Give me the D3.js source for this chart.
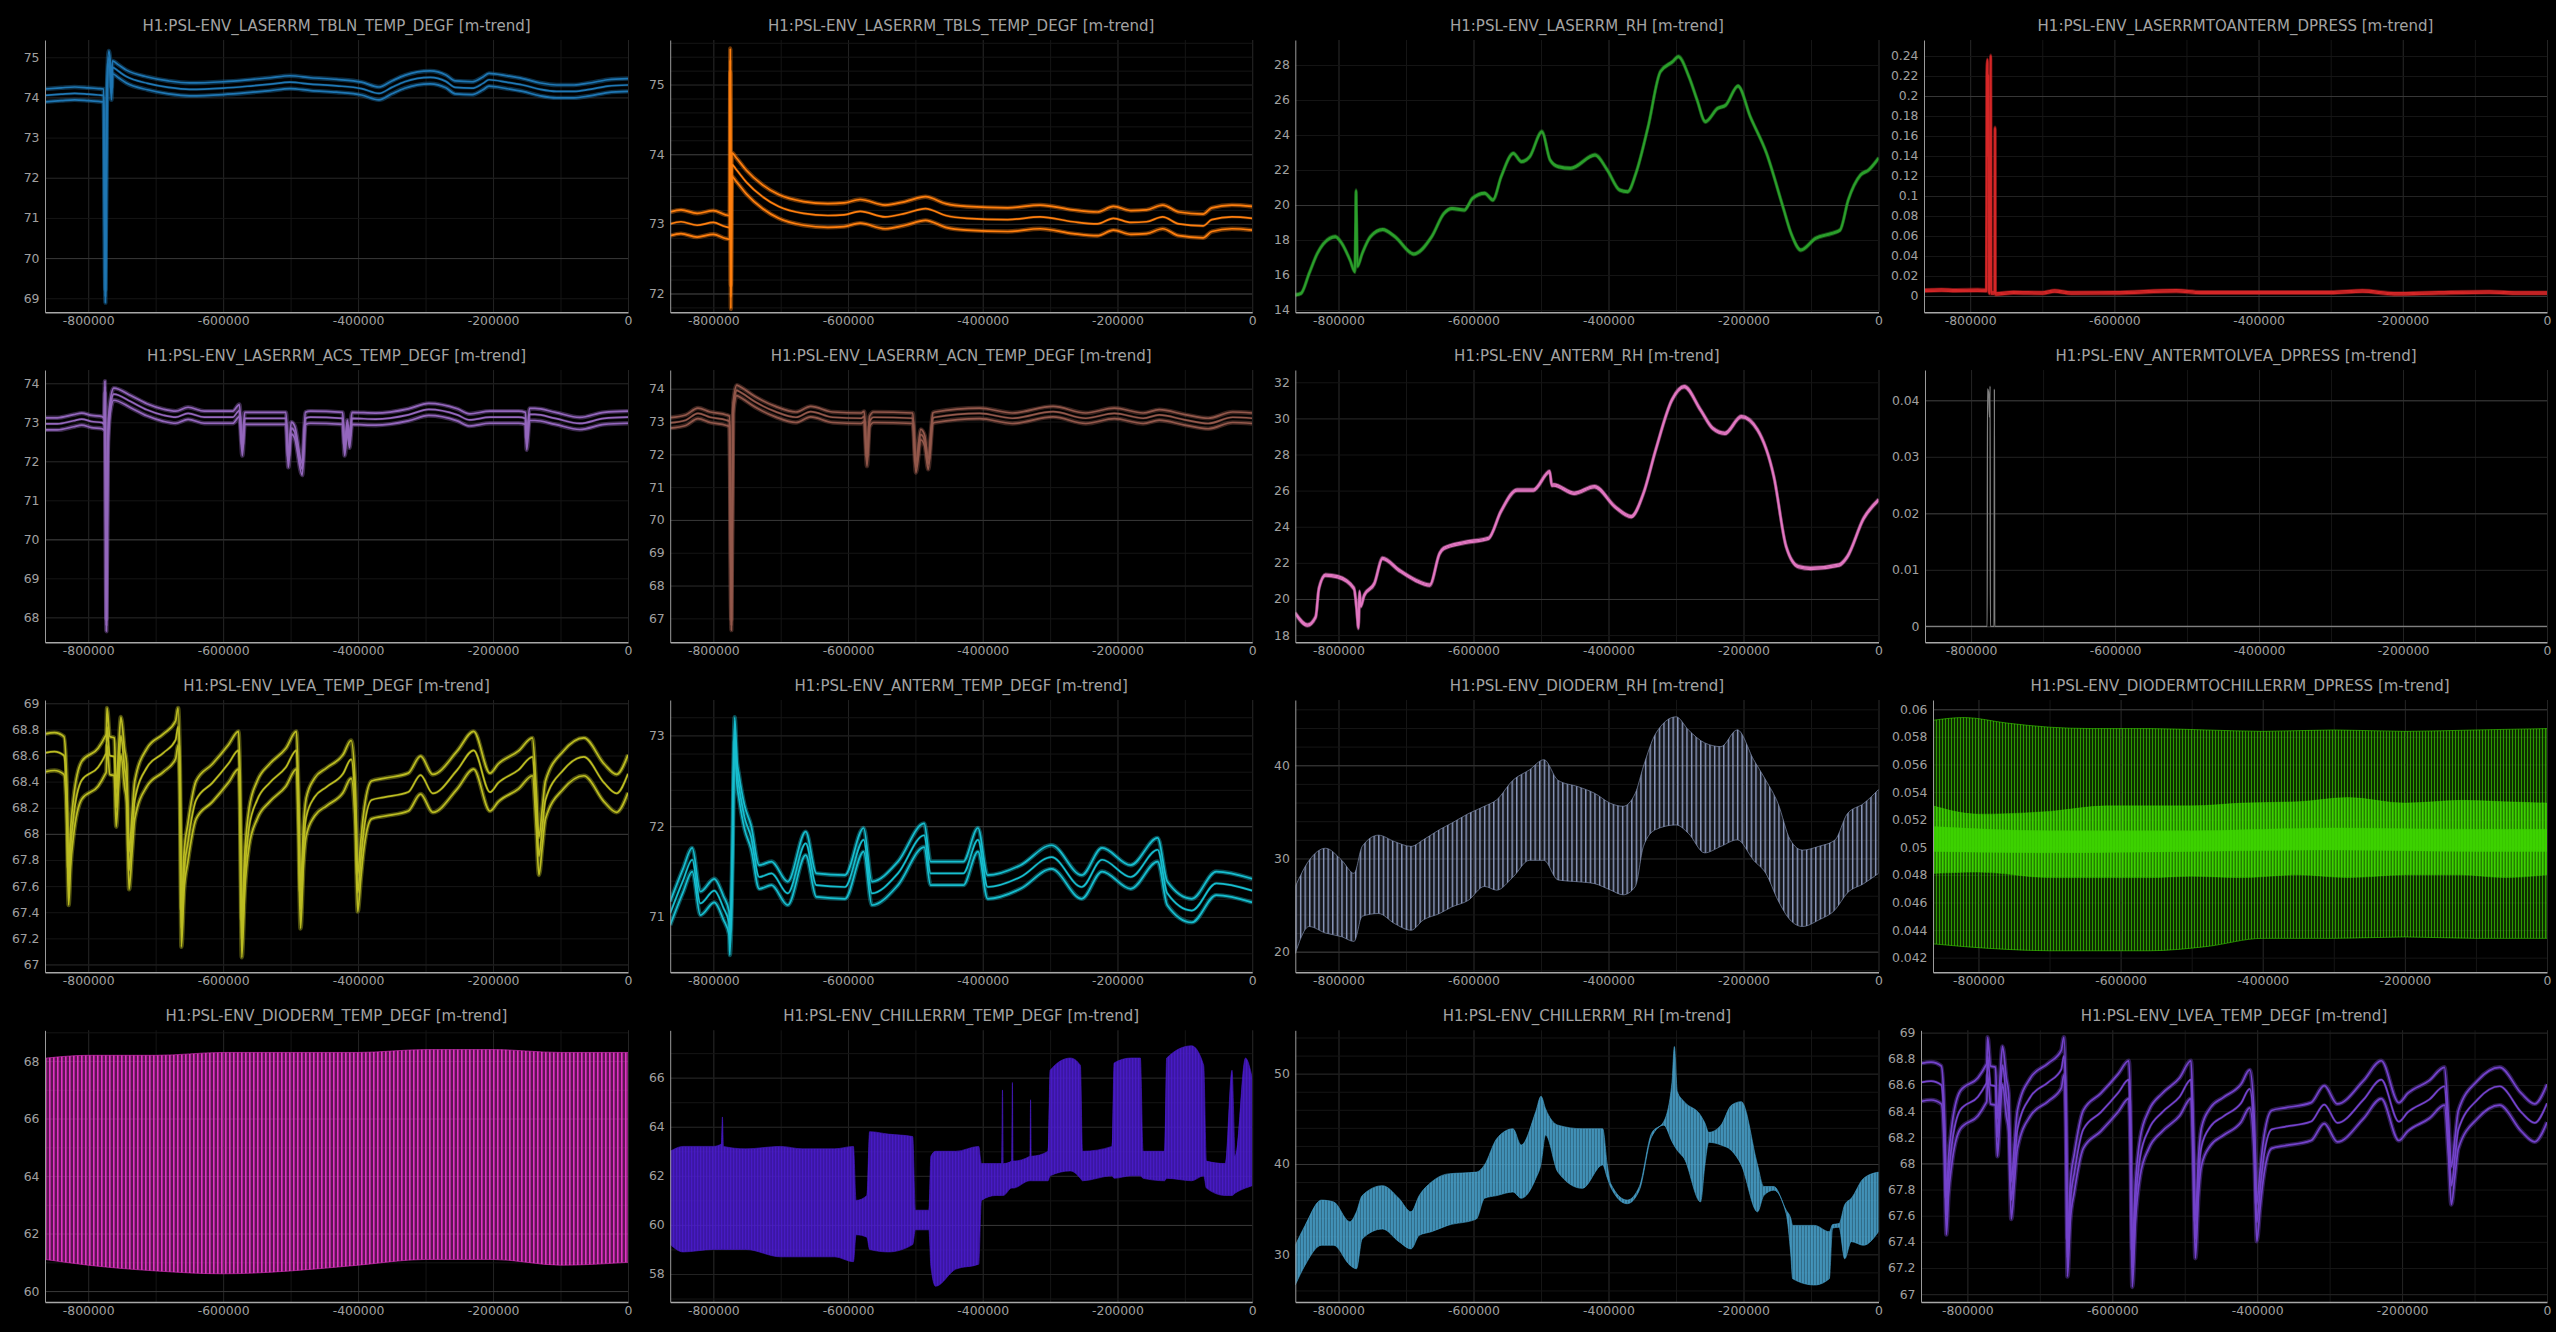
<!DOCTYPE html>
<html>
<head>
<meta charset="utf-8">
<script src="https://cdn.jsdelivr.net/npm/d3@7"></script>
<style>
  body { margin: 0; background: #000; }
  text { font-family: "DejaVu Sans", sans-serif; }
</style>
</head>
<body>
<script>
// time axis, seconds relative to now (10 days back)
const xDomain = [-864000, 0];
const xTicks = [-800000, -600000, -400000, -200000, 0];
const xGridSteps = [200000, 100000];

// m-trend means [t, mean] and min/max half spread
const tblnMean = [[-864000,74.05],[-840000,74.08],[-820000,74.1],[-800000,74.08],[-785000,74.06],[-777000,74.05],[-774500,69.05],[-772500,73.8],[-769500,75.0],[-767500,74.78],[-765500,74.1],[-764000,74.75],[-755000,74.65],[-743400,74.52],[-712000,74.35],[-680900,74.25],[-650000,74.2],[-600000,74.23],[-556000,74.29],[-530000,74.33],[-501000,74.38],[-470000,74.33],[-432000,74.29],[-395000,74.22],[-369000,74.1],[-350000,74.25],[-331000,74.39],[-293000,74.5],[-270000,74.4],[-256000,74.25],[-231000,74.23],[-215000,74.35],[-206000,74.44],[-180000,74.38],[-156000,74.31],[-130000,74.2],[-106000,74.15],[-80000,74.15],[-57000,74.2],[-30000,74.28],[0,74.31]];
const tblnSpread = 0.16;

const tblsMean = [[-864000,73.0],[-848000,73.03],[-824000,72.98],[-800000,73.02],[-782000,72.96],[-775500,72.95],[-774800,75.35],[-774000,71.95],[-772500,73.85],[-766000,73.78],[-751000,73.6],[-727000,73.39],[-703000,73.25],[-666000,73.15],[-630000,73.12],[-606000,73.13],[-582000,73.18],[-545000,73.1],[-515000,73.15],[-485000,73.22],[-455000,73.12],[-424000,73.08],[-363000,73.06],[-315000,73.1],[-266000,73.03],[-230000,73.0],[-206000,73.08],[-180000,73.02],[-157000,73.03],[-133000,73.1],[-109000,73.0],[-73000,72.97],[-60000,73.06],[-30000,73.1],[0,73.08]];
const tblsSpread = 0.17;

const laserRhMean = [[-864000,14.86],[-855500,14.95],[-843400,16.1],[-831300,17.24],[-813000,18.1],[-804700,18.19],[-795000,17.8],[-783000,16.86],[-775700,16.19],[-774000,20.82],[-772000,16.5],[-764800,17.24],[-752700,18.19],[-734500,18.6],[-716400,18.19],[-688500,17.2],[-662000,18.19],[-643800,19.52],[-631700,19.8],[-613600,19.71],[-601500,20.38],[-583300,20.67],[-571200,20.29],[-559000,21.62],[-541000,22.95],[-529000,22.48],[-516700,22.76],[-498600,24.19],[-486500,22.57],[-474400,22.19],[-456000,22.1],[-420000,22.86],[-401800,22.0],[-383600,20.86],[-371500,20.76],[-359400,21.81],[-341300,24.48],[-323100,27.62],[-305000,28.19],[-296500,28.48],[-280800,27.33],[-268700,26.0],[-256600,24.76],[-238400,25.52],[-226300,25.71],[-208200,26.8],[-190000,25.05],[-165800,22.95],[-141600,19.9],[-129500,18.38],[-115000,17.43],[-93200,18.1],[-69000,18.38],[-56900,18.57],[-44800,20.29],[-26700,21.71],[-14600,22.0],[0,22.67]];
const laserRhSpread = 0.05;

const dpressLaserMean = [[-864000,0.0055],[-840000,0.006],[-820000,0.0055],[-790000,0.0058],[-777500,0.0055],[-776800,0.218],[-776000,0.236],[-775200,0.14],[-774500,0.22],[-773800,0.004],[-772500,0.003],[-771500,0.24],[-771000,0.003],[-766000,0.003],[-765500,0.168],[-765000,0.002],[-740000,0.0035],[-700000,0.003],[-683000,0.005],[-660000,0.003],[-600000,0.0032],[-514000,0.0052],[-480000,0.0035],[-400000,0.0035],[-300000,0.0035],[-256000,0.005],[-212000,0.0022],[-150000,0.0032],[-80000,0.004],[-40000,0.003],[0,0.003]];
const dpressLaserSpread = 0.0011;

const acsMean = [[-864000,72.96],[-845800,72.96],[-821700,73.04],[-809600,73.08],[-795000,73.02],[-779300,72.99],[-776000,72.95],[-775200,73.9],[-774500,72.4],[-773000,67.8],[-771000,72.3],[-768000,73.3],[-762000,73.72],[-737000,73.53],[-713000,73.32],[-688500,73.18],[-670400,73.13],[-652000,73.23],[-628000,73.13],[-585700,73.13],[-576000,73.3],[-571500,72.3],[-568000,73.1],[-543000,73.1],[-507000,73.1],[-503400,72.0],[-499000,72.85],[-494000,72.75],[-482800,71.8],[-478000,73.1],[-470700,73.13],[-423000,73.1],[-419900,72.3],[-416000,72.9],[-412700,72.5],[-409000,73.1],[-374000,73.08],[-325600,73.19],[-295300,73.33],[-253000,73.19],[-234800,73.06],[-204500,73.13],[-162200,73.13],[-152000,73.1],[-150100,72.45],[-146000,73.2],[-138000,73.2],[-107800,73.1],[-71500,72.97],[-35300,73.1],[0,73.13]];
const acsSpread = 0.155;

const acnMean = [[-864000,72.96],[-841000,73.04],[-822800,73.25],[-804600,73.13],[-780400,73.04],[-776000,73.0],[-773200,66.8],[-770500,73.4],[-765000,73.95],[-762000,73.92],[-738000,73.6],[-707700,73.3],[-677400,73.13],[-655500,73.3],[-622800,73.13],[-580400,73.1],[-576000,73.15],[-571900,71.8],[-568000,73.0],[-562000,73.13],[-504000,73.1],[-499200,71.6],[-492000,72.6],[-486000,72.4],[-481000,71.7],[-474000,73.1],[-471000,73.13],[-404600,73.25],[-356000,73.1],[-295700,73.3],[-247000,73.1],[-204700,73.25],[-162000,73.1],[-138000,73.2],[-100000,73.05],[-65400,72.94],[-29000,73.13],[0,73.1]];
const acnSpread = 0.16;

const antermRhMean = [[-864000,19.2],[-845900,18.55],[-833800,19.0],[-829000,20.58],[-819300,21.32],[-801200,21.23],[-777000,20.58],[-773000,19.4],[-770500,18.4],[-768800,20.4],[-767000,19.6],[-762000,20.2],[-746800,20.86],[-734800,22.25],[-710600,21.6],[-686400,21.05],[-664700,20.77],[-650200,22.52],[-644100,22.8],[-614000,23.12],[-577700,23.36],[-559600,24.83],[-535400,26.03],[-511300,26.03],[-487100,27.05],[-484000,26.3],[-481000,26.31],[-450900,25.85],[-420700,26.22],[-390500,25.11],[-366400,24.56],[-348200,25.85],[-330100,28.25],[-306000,31.02],[-287800,31.76],[-263700,30.47],[-245600,29.45],[-227500,29.17],[-203300,30.1],[-179200,29.36],[-155000,26.77],[-136800,22.9],[-118700,21.79],[-100600,21.69],[-58300,21.88],[-46200,22.34],[-22000,24.46],[0,25.48]];
const antermRhSpread = 0.06;

const dpressLveaMean = [[-864000,0],[-777600,0],[-777200,0.042],[-775800,0.0415],[-774400,0.037],[-773600,0.0425],[-773200,0],[-768000,0],[-767600,0.042],[-767200,0],[0,0]];
const dpressLveaSpread = 0;

const lveaMean = [[-864000,68.62],[-850000,68.63],[-836000,68.6],[-831500,68.2],[-829000,67.6],[-826000,67.9],[-821700,68.13],[-809600,68.41],[-785300,68.51],[-775000,68.6],[-773200,68.62],[-772000,68.82],[-768000,68.6],[-761200,68.59],[-758500,68.2],[-755000,68.5],[-751500,68.75],[-746000,68.5],[-743000,68.39],[-739400,67.72],[-735000,68.0],[-730900,68.26],[-712800,68.51],[-688500,68.62],[-670400,68.72],[-666800,68.82],[-663500,68.2],[-661900,67.28],[-658000,67.7],[-652300,67.93],[-640000,68.26],[-616000,68.39],[-591800,68.54],[-577200,68.64],[-575000,68.3],[-572400,67.2],[-568000,67.7],[-561500,68.05],[-549500,68.26],[-531200,68.39],[-507000,68.51],[-491300,68.64],[-488500,68.2],[-485300,67.42],[-481000,67.9],[-476800,68.13],[-464700,68.28],[-446600,68.36],[-422400,68.46],[-410300,68.57],[-404000,68.2],[-400600,67.55],[-396000,67.8],[-392100,68.0],[-380000,68.26],[-361900,68.28],[-325600,68.32],[-307400,68.45],[-289300,68.31],[-253000,68.49],[-228800,68.64],[-204500,68.32],[-192400,68.39],[-162200,68.49],[-141600,68.59],[-136000,68.2],[-132000,67.83],[-127000,68.05],[-122300,68.26],[-95600,68.49],[-65400,68.59],[-35300,68.39],[-17100,68.31],[0,68.46]];
const lveaSpread = 0.145;

const antermTempMean = [[-864000,71.04],[-845000,71.4],[-831300,71.63],[-819200,71.15],[-798600,71.29],[-785000,71.1],[-776500,70.93],[-775500,70.71],[-772000,71.5],[-768300,73.07],[-765000,72.6],[-762000,72.44],[-753700,72.1],[-744000,71.88],[-731900,71.44],[-713700,71.48],[-689500,71.26],[-662800,71.81],[-647000,71.35],[-604600,71.33],[-576800,71.85],[-564600,71.26],[-525900,71.48],[-487000,71.9],[-477400,71.48],[-429000,71.48],[-407100,71.85],[-392700,71.33],[-344000,71.44],[-298000,71.66],[-253200,71.33],[-222900,71.63],[-180400,71.44],[-140400,71.74],[-126000,71.26],[-89600,71.07],[-53300,71.37],[0,71.29]];
const antermTempSpread = 0.13;

// fast-cycling channels: [t, low, high] envelopes of the swing
const diodeRhEnv = [[-864000,19.8,27.0],[-843500,22.7,29.8],[-819300,22.0,31.1],[-795100,21.6,29.8],[-777000,21.1,28.4],[-764900,23.8,31.3],[-740800,24.1,32.5],[-716600,23.0,31.8],[-692500,22.3,31.3],[-674400,23.4,32.0],[-650200,24.1,33.1],[-632100,24.8,33.8],[-607900,25.5,34.8],[-583800,27.0,35.6],[-565600,26.6,36.3],[-541500,28.0,38.4],[-517300,29.8,39.5],[-495600,29.8,40.6],[-475000,27.7,38.4],[-445000,27.5,37.7],[-420700,27.3,37.0],[-396500,26.6,35.9],[-378400,26.1,35.6],[-360300,27.0,37.0],[-348200,31.3,39.9],[-330100,33.1,43.4],[-299800,33.6,45.2],[-281700,32.7,43.8],[-257500,30.6,42.4],[-233400,31.3,42.0],[-209200,32.0,43.8],[-185000,29.8,40.6],[-166900,28.4,38.4],[-148800,25.5,35.9],[-130800,23.4,32.0],[-112600,22.7,30.9],[-88500,23.4,31.3],[-64300,24.5,32.0],[-46200,26.3,34.8],[-22000,27.3,35.9],[0,28.4,37.4]];

const dpressChillerOuter = [[-864000,0.0430,0.0592],[-820000,0.0428,0.0594],[-760000,0.0426,0.0590],[-700000,0.0425,0.0587],[-640000,0.0425,0.0586],[-560000,0.0425,0.0586],[-480000,0.0428,0.0585],[-400000,0.0434,0.0584],[-300000,0.0434,0.0585],[-200000,0.0435,0.0584],[-100000,0.0434,0.0585],[0,0.0434,0.0586]];
const dpressChillerInner = [[-864000,0.0481,0.0530],[-800000,0.0482,0.0524],[-700000,0.0478,0.0526],[-620000,0.0478,0.0530],[-560000,0.0478,0.0530],[-500000,0.0479,0.0530],[-430000,0.0478,0.0532],[-350000,0.0480,0.0533],[-280000,0.0478,0.0536],[-200000,0.0480,0.0532],[-120000,0.0480,0.0534],[-60000,0.0478,0.0533],[0,0.0480,0.0532]];
const dpressChillerCore = [[-864000,0.0497,0.0515],[-700000,0.0496,0.0512],[-500000,0.0497,0.0512],[-300000,0.0498,0.0514],[-100000,0.0497,0.0513],[0,0.0497,0.0513]];

const diodeTempEnv = [[-864000,61.1,68.1],[-800000,60.9,68.2],[-700000,60.7,68.2],[-600000,60.6,68.3],[-500000,60.7,68.3],[-400000,60.9,68.3],[-300000,61.1,68.4],[-200000,61.1,68.4],[-100000,60.9,68.3],[0,61.0,68.3]];

const chillerTempEnv = [[-864000,59.2,63.0],[-845000,58.9,63.2],[-800000,59.0,63.2],[-788000,59.0,63.3],[-786500,59.0,64.4],[-785000,59.0,63.2],[-752000,59.0,63.1],[-700000,58.7,63.2],[-668000,58.7,63.1],[-620000,58.7,63.1],[-592000,58.5,63.2],[-588000,59.6,61.0],[-572000,59.5,61.2],[-568000,59.0,63.8],[-540000,58.9,63.7],[-504000,59.2,63.6],[-500000,59.8,60.6],[-480000,59.8,60.6],[-477000,58.3,62.8],[-470000,57.5,63.0],[-440000,58.2,63.0],[-406000,58.4,63.2],[-402000,61.0,62.5],[-380000,61.2,62.5],[-372000,61.2,62.5],[-370700,61.2,65.5],[-369500,61.2,62.5],[-357000,61.5,62.6],[-356000,61.5,65.8],[-355000,61.5,62.6],[-330000,61.8,62.8],[-329000,61.8,65.1],[-328000,61.8,62.8],[-303000,61.8,63.0],[-300000,62.0,66.3],[-270000,62.2,66.8],[-255000,61.9,66.5],[-252000,61.8,63.0],[-208000,62.0,63.2],[-205000,61.9,66.6],[-180000,62.0,66.8],[-166000,62.0,66.8],[-162000,61.9,63.0],[-130000,61.8,63.0],[-127000,61.9,66.8],[-90000,61.8,67.3],[-72000,62.0,66.5],[-68000,61.5,62.6],[-40000,61.2,62.5],[-30000,61.2,66.3],[-25000,61.3,62.8],[-10000,61.5,66.8],[0,61.6,66.0]];

const chillerRhEnv = [[-864000,26.6,31.0],[-849500,28.8,33.2],[-825300,31.0,36.0],[-807200,31.0,35.8],[-783100,28.8,33.6],[-773400,28.4,34.7],[-764900,31.7,36.5],[-734800,32.8,37.6],[-710600,31.4,36.2],[-692500,30.6,34.7],[-680400,32.1,36.5],[-662300,32.5,38.0],[-638100,33.2,38.9],[-595800,33.9,39.1],[-583700,36.2,39.9],[-565600,36.5,42.8],[-541500,36.9,43.9],[-529400,36.2,42.1],[-507700,38.4,45.8],[-500000,40.0,47.5],[-493200,43.2,46.1],[-475000,39.1,44.3],[-438800,37.3,43.9],[-408600,39.9,43.9],[-402000,38.5,40.0],[-396600,37.4,37.8],[-372400,35.6,36.0],[-354300,37.1,37.5],[-336200,43.0,43.4],[-318100,44.3,44.7],[-306000,42.5,49.0],[-302400,42.0,53.0],[-298000,41.5,48.0],[-287800,40.6,46.9],[-263700,35.8,45.4],[-257000,40.0,44.5],[-251600,42.4,43.5],[-233400,42.1,44.3],[-218000,41.5,46.5],[-203300,39.9,46.9],[-179200,34.7,39.9],[-170000,36.5,37.5],[-155000,37.1,37.5],[-136800,34.5,34.9],[-130000,30.0,34.0],[-127200,27.3,33.2],[-94700,26.6,33.2],[-72900,27.3,32.5],[-68000,32.9,33.3],[-58500,33.0,33.4],[-50000,29.5,35.5],[-40300,31.4,36.2],[-22200,31.0,38.4],[0,32.5,39.1]];

// panel layout in the 4x4 grid
const W = 2556, H = 1332;
const rowTop = [40, 370, 700, 1030.3];
const rowBottom = [312.3, 642.3, 972.3, 1302];
const colLeft = [45, 670.2, 1295.3];
const colRight = [628, 1252.2, 1878.5, 2547];
const gridColors = ["#373737", "#232323", "#151515"];

const panels = [
  {title: "H1:PSL-ENV_LASERRM_TBLN_TEMP_DEGF [m-trend]", kind: "band", data: tblnMean, spread: tblnSpread, color: "#1f77b4", y: [68.65, 75.43], label: 1, grid: [10, 2, 1]},
  {title: "H1:PSL-ENV_LASERRM_TBLS_TEMP_DEGF [m-trend]", kind: "band", data: tblsMean, spread: tblsSpread, color: "#ff7f0e", y: [71.73, 75.64], label: 1, grid: [2, 1, 0.2]},
  {title: "H1:PSL-ENV_LASERRM_RH [m-trend]", kind: "band", data: laserRhMean, spread: laserRhSpread, color: "#2ca02c", y: [13.87, 29.43], label: 2, grid: [20, 10, 2], thin: true},
  {title: "H1:PSL-ENV_LASERRMTOANTERM_DPRESS [m-trend]", kind: "band", data: dpressLaserMean, spread: dpressLaserSpread, color: "#d62728", y: [-0.0163, 0.256], label: 0.02, grid: [0.2, 0.1, 0.02], left: 1924, thin: true},
  {title: "H1:PSL-ENV_LASERRM_ACS_TEMP_DEGF [m-trend]", kind: "band", data: acsMean, spread: acsSpread, color: "#9467bd", y: [67.36, 74.34], label: 1, grid: [10, 2, 1]},
  {title: "H1:PSL-ENV_LASERRM_ACN_TEMP_DEGF [m-trend]", kind: "band", data: acnMean, spread: acnSpread, color: "#93584b", y: [66.27, 74.57], label: 1, grid: [10, 2, 1]},
  {title: "H1:PSL-ENV_ANTERM_RH [m-trend]", kind: "band", data: antermRhMean, spread: antermRhSpread, color: "#e377c2", y: [17.6, 32.68], label: 2, grid: [20, 10, 2], thin: true},
  {title: "H1:PSL-ENV_ANTERMTOLVEA_DPRESS [m-trend]", kind: "band", data: dpressLveaMean, spread: dpressLveaSpread, color: "#7f7f7f", y: [-0.00283, 0.04536], label: 0.01, grid: [0.02, 0.01], left: 1925},
  {title: "H1:PSL-ENV_LVEA_TEMP_DEGF [m-trend]", kind: "band", data: lveaMean, spread: lveaSpread, color: "#bcbd22", y: [66.94, 69.025], label: 0.2, grid: [2, 1, 0.2]},
  {title: "H1:PSL-ENV_ANTERM_TEMP_DEGF [m-trend]", kind: "band", data: antermTempMean, spread: antermTempSpread, color: "#17becf", y: [70.39, 73.39], label: 1, grid: [2, 1, 0.2]},
  {title: "H1:PSL-ENV_DIODERM_RH [m-trend]", kind: "env", envs: [diodeRhEnv], color: "#8e9cc0", y: [17.79, 47.0], label: 10, grid: [20, 10, 2],
    fills: [{period: 4.6, stripe: 1.4, base: 0.15, op: 1}]},
  {title: "H1:PSL-ENV_DIODERMTOCHILLERRM_DPRESS [m-trend]", kind: "env", envs: [dpressChillerOuter, dpressChillerInner, dpressChillerCore], color: "#3cd200", y: [0.04094, 0.06067], label: 0.002, grid: [0.02, 0.01, 0.002], left: 1933,
    fills: [{period: 3, stripe: 1, base: 0.22, op: 0.65}, {period: 3, stripe: 1.5, base: 0.5, op: 1}, {period: 3, stripe: 2, base: 0.85, op: 1}]},
  {title: "H1:PSL-ENV_DIODERM_TEMP_DEGF [m-trend]", kind: "env", envs: [diodeTempEnv], color: "#e033c3", y: [59.62, 69.07], label: 2, grid: [10, 2, 1],
    fills: [{period: 4, stripe: 1.6, base: 0.42, op: 1}]},
  {title: "H1:PSL-ENV_CHILLERRM_TEMP_DEGF [m-trend]", kind: "env", envs: [chillerTempEnv], color: "#4a1bcc", y: [56.86, 67.93], label: 2, grid: [10, 2, 1],
    fills: [{period: 3, stripe: 1, base: 0.8, op: 1}]},
  {title: "H1:PSL-ENV_CHILLERRM_RH [m-trend]", kind: "env", envs: [chillerRhEnv], color: "#4aa5d0", y: [24.72, 54.8], label: 10, grid: [20, 10, 2],
    fills: [{period: 3, stripe: 1.5, base: 0.6, op: 1}]},
  {title: "H1:PSL-ENV_LVEA_TEMP_DEGF [m-trend]", kind: "band", data: lveaMean, spread: lveaSpread, color: "#7443cc", y: [66.94, 69.018], label: 0.2, grid: [2, 1, 0.2], left: 1921}
];

const fmt = d => String(+d.toFixed(6));

function stepValues(domain, step) {
  const out = [];
  for (let k = Math.ceil(domain[0] / step - 1e-9); k * step <= domain[1] + 1e-12; k++) {
    out.push(+(k * step).toFixed(10));
  }
  return out;
}

const svg = d3.select("body").append("svg")
  .attr("width", W)
  .attr("height", H)
  .style("background", "#000");
const defs = svg.append("defs");

panels.forEach((p, i) => {
  const r = Math.floor(i / 4), c = i % 4;
  const left = p.left != null ? p.left : colLeft[c];
  const top = rowTop[r];
  const w = colRight[c] - left, h = rowBottom[r] - top;

  const x = d3.scaleLinear().domain(xDomain).range([0, w]);
  const y = d3.scaleLinear().domain(p.y).range([h, 0]);

  const g = svg.append("g").attr("transform", `translate(${left},${top})`);

  defs.append("clipPath").attr("id", "clip" + i)
    .append("rect").attr("width", w).attr("height", h);

  // grid, finest level first so coarser lines sit on top
  const gridG = g.append("g");
  xGridSteps.slice().reverse().forEach((s, k) => {
    const lvl = xGridSteps.length - k;
    gridG.append("g")
      .call(d3.axisBottom(x).tickValues(stepValues(xDomain, s)).tickSize(h).tickFormat(""))
      .call(a => a.select(".domain").remove())
      .selectAll("line").attr("stroke", gridColors[lvl]);
  });
  p.grid.slice().reverse().forEach((s, k) => {
    const lvl = p.grid.length - 1 - k;
    gridG.append("g")
      .call(d3.axisLeft(y).tickValues(stepValues(p.y, s)).tickSize(-w).tickFormat(""))
      .call(a => a.select(".domain").remove())
      .selectAll("line").attr("stroke", gridColors[lvl]);
  });

  const plot = g.append("g").attr("clip-path", `url(#clip${i})`);

  if (p.kind === "band") {
    const line = off => d3.line().curve(d3.curveMonotoneX).x(d => x(d[0])).y(d => y(d[1] + off));
    const offs = p.spread > 0 ? [p.spread, -p.spread, 0] : [0];
    offs.forEach(off => {
      const isMean = off === 0;
      // soft halo standing in for the min/max noise, then a crisp core
      if (p.spread > 0) {
        plot.append("path")
          .attr("d", line(off)(p.data))
          .attr("fill", "none")
          .attr("stroke", p.color)
          .attr("stroke-width", p.thin ? 3 : (isMean ? 3 : 4.4))
          .attr("stroke-opacity", isMean ? 0.25 : 0.4)
          .attr("stroke-linejoin", "round");
      }
      plot.append("path")
        .attr("d", line(off)(p.data))
        .attr("fill", "none")
        .attr("stroke", p.color)
        .attr("stroke-width", p.spread > 0 ? (p.thin ? 1.2 : 1.7) : 1.3)
        .attr("stroke-linejoin", "round");
    });
  } else {
    const area = d3.area().curve(d3.curveMonotoneX).x(d => x(d[0])).y0(d => y(d[1])).y1(d => y(d[2]));
    p.envs.forEach((env, k) => {
      const f = p.fills[k];
      const pid = `pat${i}_${k}`;
      const pat = defs.append("pattern").attr("id", pid)
        .attr("patternUnits", "userSpaceOnUse")
        .attr("width", f.period).attr("height", 10);
      pat.append("rect").attr("width", f.period).attr("height", 10)
        .attr("fill", p.color).attr("fill-opacity", f.base);
      pat.append("rect").attr("width", f.stripe).attr("height", 10)
        .attr("fill", p.color).attr("fill-opacity", f.op);
      plot.append("path")
        .attr("d", area(env))
        .attr("fill", `url(#${pid})`)
        .attr("stroke", p.color)
        .attr("stroke-width", 1)
        .attr("stroke-opacity", k === 0 ? 0.6 : 0.35);
    });
  }

  // axes
  const yAxis = g.append("g")
    .call(d3.axisLeft(y).tickValues(stepValues(p.y, p.label)).tickSize(0).tickSizeOuter(0).tickPadding(5.5).tickFormat(fmt));
  const xAxis = g.append("g").attr("transform", `translate(0,${h})`)
    .call(d3.axisBottom(x).tickValues(xTicks).tickSize(0).tickSizeOuter(0).tickPadding(4).tickFormat(fmt));
  [yAxis, xAxis].forEach(a => {
    a.attr("font-family", null).attr("font-size", null);
    a.selectAll("text").attr("fill", "#a0a0a0").style("font-size", "12.4px");
  });
  yAxis.select(".domain").attr("stroke", "#9a9a9a").attr("stroke-width", 1);
  xAxis.select(".domain").attr("stroke", "#a8a8a8").attr("stroke-width", 1.5);

  svg.append("text")
    .attr("x", left + w / 2)
    .attr("y", top - 9.5)
    .attr("text-anchor", "middle")
    .attr("fill", "#a3a3a3")
    .style("font-size", "15px")
    .text(p.title);
});
</script>
</body>
</html>
